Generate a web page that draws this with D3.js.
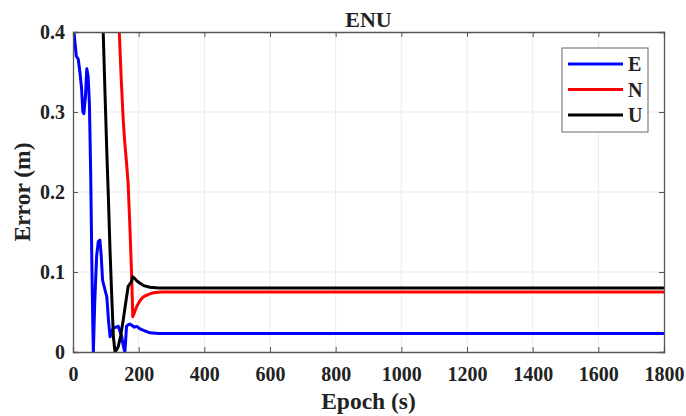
<!DOCTYPE html>
<html>
<head>
<meta charset="utf-8">
<script src="https://cdn.jsdelivr.net/npm/d3@7"></script>
<style>
  body { margin: 0; background: #fff; }
  svg text { font-family: "Liberation Serif", "Times New Roman", serif; font-weight: bold; fill: #222; }
</style>
</head>
<body>
<div id="chart"></div>
<script>
// values (epoch s, error m)
const eastT = [0, 3, 10, 16, 21, 26, 30, 33, 38, 42, 46, 50, 54, 57, 60, 62, 66, 72, 77, 82, 86, 90, 96, 103, 108, 113, 118, 123, 130, 138, 143, 148, 153, 158, 163, 168, 173, 180, 187, 194, 204, 215, 234, 260, 300, 1800];
const eastV = [0.41, 0.40, 0.37, 0.366, 0.35, 0.33, 0.30, 0.298, 0.32, 0.354, 0.345, 0.31, 0.22, 0.124, 0.04, 0.0, 0.06, 0.12, 0.138, 0.14, 0.12, 0.09, 0.08, 0.069, 0.04, 0.019, 0.025, 0.03, 0.031, 0.032, 0.026, 0.02, 0.008, 0.0, 0.032, 0.034, 0.035, 0.033, 0.031, 0.032, 0.029, 0.027, 0.024, 0.023, 0.023, 0.023];
const northT = [136, 141, 147, 153, 158, 163, 168, 174, 179, 182, 186, 194, 204, 214, 230, 245, 270, 320, 1800];
const northV = [0.48, 0.40, 0.34, 0.29, 0.26, 0.237, 0.21, 0.149, 0.09, 0.044, 0.048, 0.057, 0.064, 0.069, 0.072, 0.074, 0.075, 0.075, 0.075];
const upT = [88, 92, 97, 103, 108, 113, 118, 123, 128, 133, 138, 145, 153, 160, 168, 173, 178, 182, 188, 194, 204, 215, 234, 260, 300, 1800];
const upV = [0.46, 0.40, 0.33, 0.25, 0.19, 0.124, 0.07, 0.019, 0.0, 0.003, 0.007, 0.02, 0.04, 0.06, 0.082, 0.085, 0.088, 0.094, 0.092, 0.089, 0.086, 0.083, 0.081, 0.080, 0.080, 0.080];

const seriesNames = ["E", "N", "U"];
const seriesColors = ["#0000ff", "#ff0000", "#000000"];
const xTicks = [0, 200, 400, 600, 800, 1000, 1200, 1400, 1600, 1800];
const yTicks = [0, 0.1, 0.2, 0.3, 0.4];

const width = 686, height = 416;
const margin = {top: 32, right: 22, bottom: 64, left: 73};

const svg = d3.select("#chart").append("svg")
    .attr("width", width).attr("height", height);

const x = d3.scaleLinear().domain([0, 1800]).range([margin.left, width - margin.right]);
const y = d3.scaleLinear().domain([0, 0.4]).range([height - margin.bottom, margin.top]);

// grid
svg.append("g").selectAll("line").data(xTicks.slice(1, -1)).join("line")
    .attr("x1", d => x(d)).attr("x2", d => x(d))
    .attr("y1", y(0)).attr("y2", y(0.4))
    .attr("stroke", "#ebebeb").attr("stroke-width", 1);
svg.append("g").selectAll("line").data(yTicks.slice(1, -1)).join("line")
    .attr("x1", x(0)).attr("x2", x(1800))
    .attr("y1", d => y(d)).attr("y2", d => y(d))
    .attr("stroke", "#ebebeb").attr("stroke-width", 1);

// lines, clipped to the axes box
svg.append("clipPath").attr("id", "clip").append("rect")
    .attr("x", x(0)).attr("y", y(0.4))
    .attr("width", x(1800) - x(0)).attr("height", y(0) - y(0.4));

const line = d3.line().x(d => x(d[0])).y(d => y(d[1]));
const series = [
  d3.zip(eastT, eastV),
  d3.zip(northT, northV),
  d3.zip(upT, upV)
];
const plot = svg.append("g").attr("clip-path", "url(#clip)");
series.forEach((s, i) => {
  plot.append("path").datum(s)
      .attr("fill", "none")
      .attr("stroke", seriesColors[i])
      .attr("stroke-width", 3)
      .attr("stroke-linejoin", "round")
      .attr("d", line);
});

// axes, ticks pointing inward like matlab
const xAxis = svg.append("g").attr("transform", `translate(0,${y(0)})`)
    .call(d3.axisBottom(x).tickValues(xTicks).tickSize(-5).tickPadding(15).tickFormat(d3.format("d")));
const yAxis = svg.append("g").attr("transform", `translate(${x(0)},0)`)
    .call(d3.axisLeft(y).tickValues(yTicks).tickSize(-5).tickPadding(8).tickFormat(d => d === 0 ? "0" : d3.format(".1f")(d)));
svg.append("g").attr("transform", `translate(0,${y(0.4)})`)
    .call(d3.axisTop(x).tickValues(xTicks).tickSize(-5).tickFormat(""));
svg.append("g").attr("transform", `translate(${x(1800)},0)`)
    .call(d3.axisRight(y).tickValues(yTicks).tickSize(-5).tickFormat(""));

svg.selectAll(".domain").attr("stroke", "#555").attr("stroke-width", 1.3);
svg.selectAll(".tick line").attr("stroke", "#555");
svg.selectAll(".tick text").attr("font-size", 20).attr("fill", "#222")
    .style("font-family", "Liberation Serif").style("font-weight", "bold");

// labels
svg.append("text").attr("x", (x(0) + x(1800)) / 2).attr("y", 27)
    .attr("text-anchor", "middle").attr("font-size", 22).text("ENU");
svg.append("text").attr("x", (x(0) + x(1800)) / 2).attr("y", 409)
    .attr("text-anchor", "middle").attr("font-size", 23.5).text("Epoch (s)");
svg.append("text")
    .attr("transform", `translate(30,${(y(0) + y(0.4)) / 2}) rotate(-90)`)
    .attr("text-anchor", "middle").attr("font-size", 23.5).text("Error (m)");

// legend
const legend = svg.append("g").attr("transform", "translate(562,48)");
legend.append("rect").attr("width", 86).attr("height", 84)
    .attr("fill", "#fff").attr("stroke", "#666").attr("stroke-width", 1);
seriesNames.forEach((n, i) => {
  const ly = 16 + i * 25.5;
  legend.append("line").attr("x1", 6).attr("x2", 61).attr("y1", ly).attr("y2", ly)
      .attr("stroke", seriesColors[i]).attr("stroke-width", 3);
  legend.append("text").attr("x", 66).attr("y", ly + 7).attr("font-size", 20).text(n);
});
</script>
</body>
</html>
